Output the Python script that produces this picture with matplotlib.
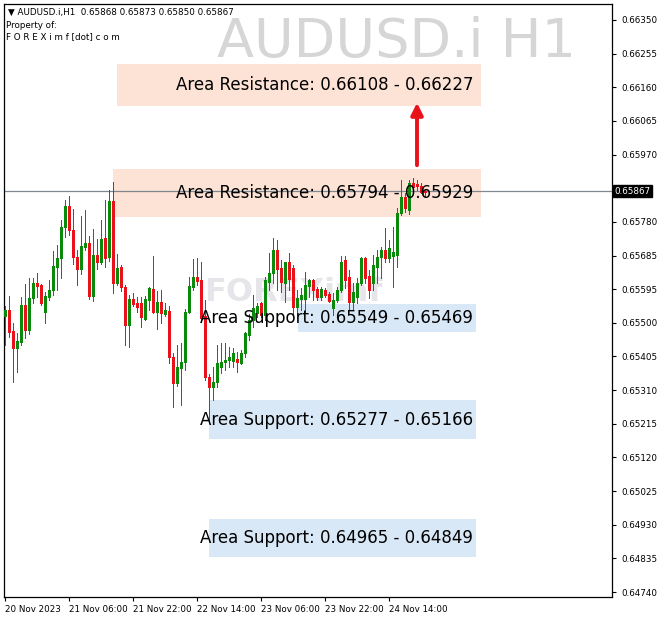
import numpy as np
import matplotlib
matplotlib.use("Agg")
import matplotlib.pyplot as plt
from matplotlib.patches import Rectangle

# hourly candles, 20 Nov 14:00 .. 24 Nov 23:00, prices in 1e-5 units
opens = [65514, 65531, 65472, 65424, 65441, 65545, 65475, 65565, 65608, 65602,
         65526, 65568, 65588, 65653, 65678, 65766, 65825, 65757, 65681, 65647,
         65709, 65720, 65571, 65687, 65667, 65735, 65681, 65839, 65608, 65653,
         65596, 65489, 65562, 65551, 65551, 65506, 65560, 65591, 65526, 65554,
         65520, 65529, 65399, 65325, 65368, 65385, 65526, 65596, 65625, 65616,
         65514, 65342, 65314, 65328, 65370, 65385, 65390, 65387, 65393, 65382,
         65410, 65461, 65503, 65523, 65551, 65517, 65610, 65636, 65701, 65650,
         65608, 65667, 65650, 65540, 65562, 65562, 65599, 65616, 65591, 65568,
         65588, 65577, 65537, 65560, 65588, 65672, 65625, 65554, 65568, 65608,
         65678, 65627, 65608, 65653, 65681, 65701, 65678, 65684, 65687, 65805,
         65850, 65814, 65890, 65887, 65881, 65868]
highs = [65543, 65571, 65495, 65466, 65568, 65605, 65622, 65622, 65636, 65605,
         65582, 65616, 65698, 65715, 65785, 65842, 65853, 65816, 65701, 65797,
         65814, 65740, 65760, 65732, 65785, 65842, 65870, 65893, 65689, 65658,
         65602, 65574, 65579, 65568, 65568, 65571, 65596, 65684, 65585, 65588,
         65551, 65543, 65410, 65433, 65438, 65534, 65625, 65675, 65678, 65667,
         65560, 65351, 65370, 65433, 65438, 65438, 65427, 65424, 65413, 65418,
         65469, 65520, 65574, 65551, 65554, 65625, 65692, 65735, 65729, 65672,
         65650, 65692, 65658, 65588, 65593, 65639, 65619, 65619, 65596, 65596,
         65593, 65582, 65579, 65596, 65684, 65684, 65644, 65608, 65622, 65681,
         65681, 65644, 65687, 65701, 65709, 65763, 65729, 65766, 65819, 65898,
         65862, 65898, 65904, 65898, 65890, 65873]
lows = [65433, 65455, 65328, 65356, 65433, 65452, 65464, 65551, 65568, 65545,
        65495, 65560, 65574, 65588, 65622, 65737, 65743, 65661, 65602, 65633,
        65701, 65562, 65557, 65647, 65661, 65653, 65670, 65579, 65602, 65585,
        65433, 65427, 65543, 65526, 65483, 65503, 65531, 65523, 65478, 65495,
        65514, 65382, 65258, 65317, 65263, 65362, 65523, 65588, 65602, 65497,
        65334, 65221, 65277, 65314, 65353, 65362, 65370, 65370, 65356, 65379,
        65399, 65447, 65483, 65512, 65512, 65503, 65588, 65608, 65588, 65582,
        65554, 65588, 65517, 65526, 65531, 65526, 65568, 65560, 65560, 65560,
        65568, 65554, 65517, 65554, 65582, 65593, 65531, 65531, 65551, 65602,
        65608, 65565, 65588, 65608, 65622, 65667, 65667, 65596, 65653, 65800,
        65808, 65802, 65870, 65870, 65862, 65850]
closes = [65531, 65469, 65424, 65444, 65545, 65475, 65565, 65608, 65599, 65551,
          65571, 65588, 65656, 65678, 65766, 65825, 65757, 65681, 65647, 65712,
          65720, 65571, 65687, 65667, 65732, 65678, 65839, 65608, 65650, 65596,
          65489, 65562, 65548, 65540, 65512, 65562, 65593, 65526, 65554, 65523,
          65531, 65399, 65325, 65370, 65385, 65526, 65599, 65625, 65613, 65509,
          65342, 65314, 65328, 65382, 65385, 65390, 65399, 65410, 65385, 65410,
          65466, 65503, 65537, 65543, 65517, 65616, 65636, 65701, 65647, 65610,
          65667, 65619, 65540, 65565, 65574, 65602, 65616, 65588, 65568, 65591,
          65574, 65557, 65560, 65588, 65667, 65616, 65554, 65582, 65608, 65678,
          65622, 65588, 65658, 65681, 65701, 65678, 65706, 65695, 65805, 65850,
          65819, 65890, 65879, 65881, 65864, 65867]

date_labels = ["20 Nov 2023", "21 Nov 06:00", "21 Nov 22:00", "22 Nov 14:00",
               "23 Nov 06:00", "23 Nov 22:00", "24 Nov 14:00"]
date_bars = [0, 16, 32, 48, 64, 80, 96]

price_ticks = [0.66350, 0.66255, 0.66160, 0.66065, 0.65970, 0.65875, 0.65780,
               0.65685, 0.65590, 0.65495, 0.65400, 0.65305, 0.65210, 0.65115,
               0.65020, 0.64925, 0.64830, 0.64735]
tick_labels = ["0.66350", "0.66255", "0.66160", "0.66065", "0.65970", "",
               "0.65780", "0.65685", "0.65595", "0.65500", "0.65405", "0.65310",
               "0.65215", "0.65120", "0.65025", "0.64930", "0.64835", "0.64740"]

last_price = 0.65867

# zones: (label, low, high, first bar, last bar, kind)
zones = [
    ("Area Resistance: 0.66108 - 0.66227", 0.66108, 0.66227, 28.0, 119.0, "res"),
    ("Area Resistance: 0.65794 - 0.65929", 0.65794, 0.65929, 27.0, 119.0, "res"),
    ("Area Support: 0.65549 - 0.65469", 0.65469, 0.65549, 73.25, 117.75, "sup"),
    ("Area Support: 0.65277 - 0.65166", 0.65166, 0.65277, 51.0, 117.75, "sup"),
    ("Area Support: 0.64965 - 0.64849", 0.64834, 0.64941, 51.0, 117.75, "sup"),
]

o = np.array(opens) / 1e5
h = np.array(highs) / 1e5
l = np.array(lows) / 1e5
c = np.array(closes) / 1e5
x = np.arange(len(o))

GREEN = "#0a8a0a"
RED = "#e8121a"

fig = plt.figure(figsize=(6.65, 6.20), dpi=100)
ax = fig.add_axes([4 / 665, 23 / 620, 608 / 665, 593 / 620])
ax.set_xlim(-0.25, 151.75)
ax.set_ylim(0.64721, 0.66395)

# watermarks
ax.text(0.94, 0.98, "AUDUSD.i H1", transform=ax.transAxes, ha="right", va="top",
        fontsize=39, color="#d6d6d6", zorder=0)
ax.text(72, 0.65580, "FOREXimf", ha="center", va="center", fontsize=23,
        color="#e6e6ea", fontweight="bold", zorder=0)

# zones
for label, lo, hi, x0, x1, kind in zones:
    fc = "#fde3d6" if kind == "res" else "#d9e8f6"
    ax.add_patch(Rectangle((x0, lo), x1 - x0, hi - lo, facecolor=fc,
                           edgecolor="none", zorder=1))

ax.axhline(last_price, color="#7f8790", lw=0.9, zorder=2)

# candles: 1px wicks, 3px bodies
px = 72 / 100
cols = [GREEN if cc >= oo else RED for oo, cc in zip(o, c)]
ax.vlines(x, l, h, colors=cols, lw=px, zorder=3, antialiased=False)
top = np.maximum(o, c)
bot = np.minimum(o, c)
bot = np.where(top - bot < 0.00003, top - 0.00003, bot)
ax.vlines(x, bot, top, colors=cols, lw=3 * px, zorder=4, antialiased=False,
          capstyle="butt")

for label, lo, hi, x0, x1, kind in zones:
    ax.text(117.0, (lo + hi) / 2, label, ha="right", va="center", fontsize=12,
            color="black", zorder=6)

ax.annotate("", xy=(103, 0.66124), xytext=(103, 0.65932),
            arrowprops=dict(arrowstyle="-|>,head_width=0.35,head_length=0.7",
                            color=RED, lw=2.8), zorder=7)

# axes look
for s in ax.spines.values():
    s.set_color("black")
    s.set_linewidth(0.9)
ax.yaxis.tick_right()
ax.set_yticks(price_ticks)
ax.set_yticklabels(tick_labels)
ax.tick_params(axis="y", direction="out", length=3, labelsize=6.3, pad=4)
ax.set_xticks(date_bars)
ax.set_xticklabels(date_labels, ha="left")
ax.tick_params(axis="x", direction="out", length=3, labelsize=6.3, pad=3)

ax.text(1.004, last_price, "0.65867", transform=ax.get_yaxis_transform(),
        ha="left", va="center", fontsize=6.3, color="white",
        bbox=dict(boxstyle="square,pad=0.2", fc="black", ec="black"), zorder=8,
        clip_on=False)

ax.text(0.006, 0.993, "\u25bc AUDUSD.i,H1  0.65868 0.65873 0.65850 0.65867",
        transform=ax.transAxes, ha="left", va="top", fontsize=6.3)
ax.text(0.004, 0.972, "Property of:", transform=ax.transAxes, ha="left", va="top",
        fontsize=6.3)
ax.text(0.004, 0.953, "F O R E X i m f [dot] c o m", transform=ax.transAxes,
        ha="left", va="top", fontsize=6.3)

fig.savefig("out.png", dpi=100)
